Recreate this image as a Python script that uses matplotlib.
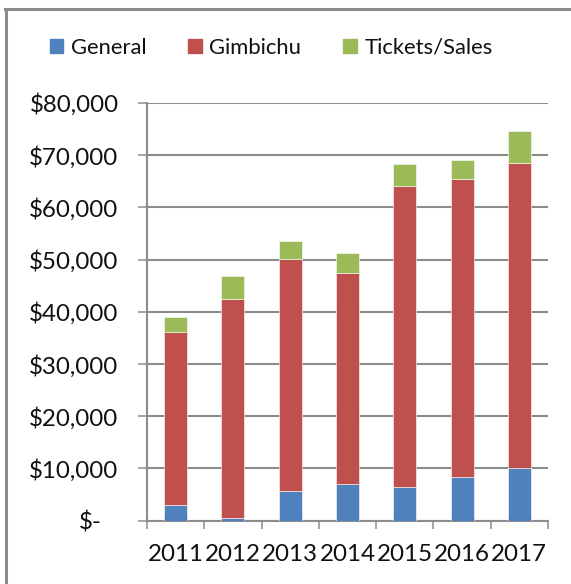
import matplotlib
matplotlib.use("Agg")
import matplotlib.pyplot as plt
import matplotlib.transforms as mtransforms
from matplotlib.lines import Line2D
from matplotlib.patches import Patch
import numpy as np

years = ["2011", "2012", "2013", "2014", "2015", "2016", "2017"]
general = [3000, 500, 5700, 7100, 6400, 8300, 10000]
gimbichu = [33100, 41900, 44400, 40300, 57700, 57100, 58500]
tickets = [2860, 4500, 3500, 3900, 4200, 3600, 6200]
yticks = [0, 10000, 20000, 30000, 40000, 50000, 60000, 70000, 80000]
ytick_labels = ["$-", "$10,000", "$20,000", "$30,000", "$40,000",
                "$50,000", "$60,000", "$70,000", "$80,000"]

c_blue = "#4F81BD"
c_red = "#C0504D"
c_green = "#9BBB59"
grid_c = "#8C8C8C"

plt.rcParams['font.family'] = ['Lato', 'DejaVu Sans']
W, H = 571, 584
fig = plt.figure(figsize=(W / 100, H / 100), dpi=100)
left, right, top, bottom = 147, 548, 103, 520.7
ax = fig.add_axes([left / W, 1 - bottom / H, (right - left) / W, (bottom - top) / H])

x = np.arange(len(years))
bw = 0.4
g = np.array(general)
r = np.array(gimbichu)
t = np.array(tickets)
ax.bar(x, g, bw, color=c_blue, edgecolor="white", linewidth=0.4, zorder=3)
ax.bar(x, r, bw, bottom=g, color=c_red, edgecolor="white", linewidth=0.4, zorder=3)
ax.bar(x, t, bw, bottom=g + r, color=c_green, edgecolor="white", linewidth=0.4, zorder=3)

ax.set_xlim(-0.5, len(years) - 0.5)
ax.set_ylim(0, 80000)
ax.set_yticks(yticks)
ax.set_yticklabels(ytick_labels)
ax.set_xticks(x)
ax.set_xticklabels(years)
ax.set_xticks(np.arange(-0.5, len(years)), minor=True)

ax.yaxis.grid(True, color=grid_c, linewidth=1.5, zorder=0)
ax.set_axisbelow(True)
for s in ["top", "right"]:
    ax.spines[s].set_visible(False)
for s in ["left", "bottom"]:
    ax.spines[s].set_color(grid_c)
    ax.spines[s].set_linewidth(1.5)

fs = 17.4
ax.tick_params(axis="y", length=6.5, width=1.1, color=grid_c, labelsize=fs,
               pad=14, labelcolor="#111111")
ax.tick_params(axis="x", which="major", length=0, labelsize=fs, pad=17,
               labelcolor="#111111")
ax.tick_params(axis="x", which="minor", length=6, width=1.1, color=grid_c)

# shift "$-" label left like Excel accounting format
lbl0 = ax.get_yticklabels()[0]
lbl0.set_transform(lbl0.get_transform() + mtransforms.ScaledTranslation(-17 / 100, 0, fig.dpi_scale_trans))

handles = [Patch(color=c_blue), Patch(color=c_red), Patch(color=c_green)]
fig.legend(handles, ["General", "Gimbichu", "Tickets/Sales"], loc="center",
           bbox_to_anchor=(271 / W, 1 - 48 / H), ncol=3, frameon=False,
           fontsize=15.8, handlelength=0.62, handleheight=0.62, handletextpad=0.35,
           columnspacing=1.9, labelcolor="#111111")

# chart outer border (top and left)
fig.add_artist(Line2D([6 / W, 6 / W], [0, 1 - 9 / H], color="#8A8A8A", linewidth=2.2))
fig.add_artist(Line2D([5 / W, 1], [1 - 9 / H, 1 - 9 / H], color="#8A8A8A", linewidth=2.2))

fig.savefig("out.png", dpi=100)
